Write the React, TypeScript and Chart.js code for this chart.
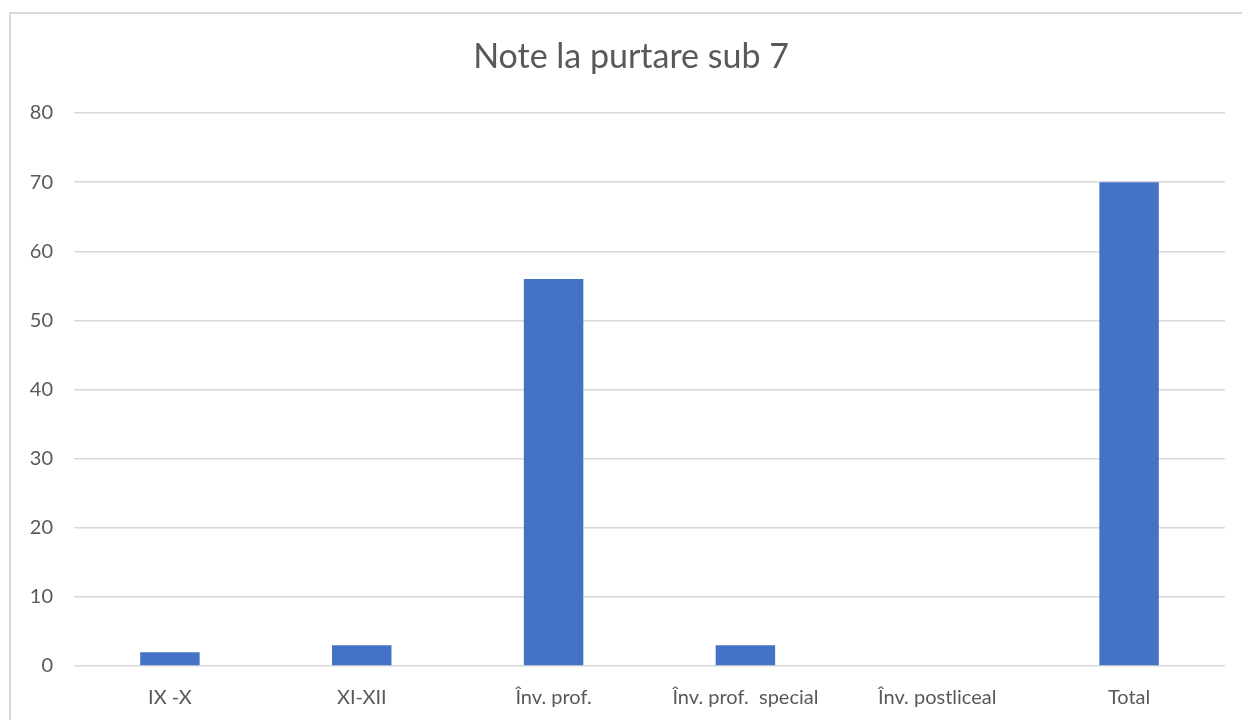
import React, { useEffect, useRef } from "react";
import { Chart, registerables } from "chart.js";

Chart.register(...registerables);

const categories = ["IX -X", "XI-XII", "Înv. prof.", "Înv. prof.  special", "Înv. postliceal", "Total"];
const values = [2, 3, 56, 3, 0, 70];
const titleText = "Note la purtare sub 7";
const yMin = 0;
const yMax = 80;
const yStep = 10;

const FONT = "Lato, 'Open Sans', sans-serif";
const TEXT = "#595959";
const GRID = "#d9d9d9";

const titlePlugin = {
  id: "centeredTitle",
  afterDraw(chart: any) {
    const ctx = chart.ctx;
    ctx.save();
    ctx.font = `normal 34px ${FONT}`;
    ctx.fillStyle = TEXT;
    ctx.textAlign = "center";
    ctx.textBaseline = "middle";
    ctx.fillText(titleText, 631, 57);
    ctx.restore();
  },
};

export default function App() {
  const ref = useRef<HTMLCanvasElement | null>(null);
  useEffect(() => {
    if (!ref.current) return;
    const chart = new Chart(ref.current, {
      type: "bar",
      data: {
        labels: categories,
        datasets: [
          {
            data: values,
            backgroundColor: "#4472C4",
            borderWidth: 0,
            barPercentage: 0.31,
            categoryPercentage: 1,
          },
        ],
      },
      plugins: [titlePlugin],
      options: {
        responsive: false,
        animation: false,
        layout: { padding: { left: 0, right: 17, top: 113, bottom: 0 } },
        plugins: {
          legend: { display: false },
          tooltip: { enabled: false },
          title: { display: false },
        },
        scales: {
          x: {
            grid: { display: false, drawTicks: false },
            border: { display: false },
            ticks: {
              color: TEXT,
              font: { family: FONT, size: 20 },
              padding: 20,
              maxRotation: 0,
              autoSkip: false,
            },
            afterFit: (s: any) => {
              s.height = 54;
            },
          },
          y: {
            min: yMin,
            max: yMax,
            grid: { color: GRID, lineWidth: 1.5, drawTicks: false },
            border: { display: false },
            ticks: {
              stepSize: yStep,
              color: TEXT,
              font: { family: FONT, size: 20 },
              padding: 21,
            },
            afterFit: (s: any) => {
              s.width = 74;
            },
          },
        },
      },
    });
    return () => chart.destroy();
  }, []);
  return (
    <div style={{ position: "fixed", left: 0, top: 0, width: 1242, height: 720, overflow: "hidden", background: "#fff" }}>
      <canvas ref={ref} width={1242} height={720} style={{ position: "absolute", left: 0, top: 0 }} />
      <div
        style={{
          position: "absolute",
          left: 9,
          top: 12,
          width: 1260,
          height: 740,
          border: `2px solid ${GRID}`,
          pointerEvents: "none",
        }}
      />
    </div>
  );
}
